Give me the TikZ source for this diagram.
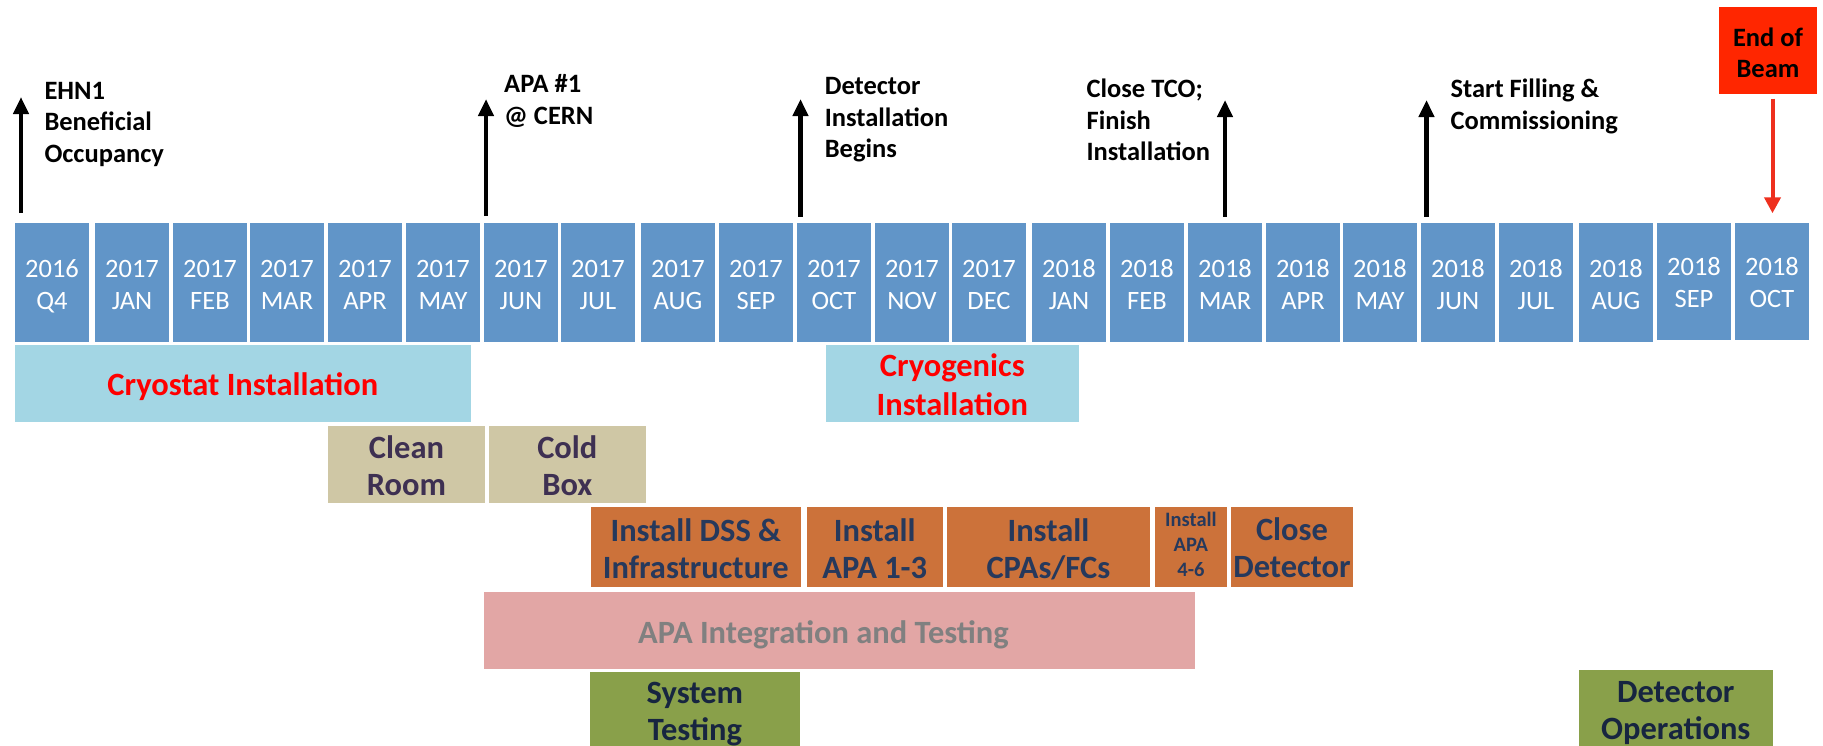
\documentclass[tikz,border=0pt]{standalone}
\usepackage{fontspec}
\setmainfont{Carlito}
\usetikzlibrary{arrows.meta}
\definecolor{monthblue}{RGB}{97,149,200}
\definecolor{cryoblue}{RGB}{163,214,228}
\definecolor{tanfill}{RGB}{207,199,165}
\definecolor{tantext}{RGB}{62,48,82}
\definecolor{orangefill}{RGB}{204,114,58}
\definecolor{orangetext}{RGB}{38,57,92}
\definecolor{pinkfill}{RGB}{226,166,165}
\definecolor{graytext}{RGB}{128,128,128}
\definecolor{greenfill}{RGB}{137,160,74}
\definecolor{greentext}{RGB}{23,37,64}
\definecolor{beamred}{RGB}{255,38,0}
\definecolor{arrowred}{RGB}{238,48,30}
\tikzset{
  monthbox/.style={fill=monthblue, minimum width=74pt, inner sep=0pt, anchor=north west},
  monthtext/.style={text=white, anchor=base, inner sep=0pt, font=\fontsize{26.5}{32}\selectfont},
  barbox/.style={inner sep=0pt, anchor=north west},
  bartext/.style={anchor=base, inner sep=0pt, font=\bfseries\fontsize{32.5}{36.7}\selectfont},
  milearrow/.style={line width=4.5pt, -{Triangle[width=15pt,length=17pt]}},
  redarrow/.style={arrowred, line width=4pt, -{Triangle[width=16pt,length=16pt]}},
  milelabel/.style={anchor=base west, inner sep=0pt, font=\bfseries\fontsize{26.5}{31.7}\selectfont},
}
\begin{document}
\begin{tikzpicture}[x=1pt,y=-1pt]
\useasboundingbox (0,0) rectangle (1823,745);
\clip (0,0) rectangle (1823,745);
% month boxes
\foreach \mx/\yr/\mo [count=\i] in {15/2016/Q4, 95/2017/JAN, 173/2017/FEB, 250/2017/MAR, 328/2017/APR, 406/2017/MAY, 484/2017/JUN, 561/2017/JUL, 641/2017/AUG, 719/2017/SEP, 797/2017/OCT, 875/2017/NOV, 952/2017/DEC, 1032/2018/JAN, 1110/2018/FEB, 1188/2018/MAR, 1266/2018/APR, 1343/2018/MAY, 1421/2018/JUN, 1499/2018/JUL, 1579/2018/AUG}{
  \node[monthbox, minimum height=119pt] (m\i) at (\mx,222.7) {};
  \node[monthtext] (mt\i) at (\mx+37,277) {\begin{tabular}[t]{@{}c@{}}\yr\\\mo\end{tabular}};
}
\node[monthbox, minimum height=116.6pt] (m22) at (1657,222.7) {};
\node[monthtext] (mt22) at (1694,275) {\begin{tabular}[t]{@{}c@{}}2018\\SEP\end{tabular}};
\node[monthbox, minimum height=116.6pt] (m23) at (1735,222.7) {};
\node[monthtext] (mt23) at (1772,275) {\begin{tabular}[t]{@{}c@{}}2018\\OCT\end{tabular}};

% milestone arrows
\coordinate (a1s) at (21,213);    \coordinate (a1e) at (21,97);
\coordinate (a2s) at (486,216);   \coordinate (a2e) at (486,99);
\coordinate (a3s) at (800.5,216.5); \coordinate (a3e) at (800.5,99);
\coordinate (a4s) at (1225,216.5);  \coordinate (a4e) at (1225,100);
\coordinate (a5s) at (1426.5,216.5); \coordinate (a5e) at (1426.5,100);
\draw[milearrow] (a1s) -- (a1e);
\draw[milearrow] (a2s) -- (a2e);
\draw[milearrow] (a3s) -- (a3e);
\draw[milearrow] (a4s) -- (a4e);
\draw[milearrow] (a5s) -- (a5e);

% milestone labels
\node[milelabel] (l1) at (44.3,99) {\begin{tabular}[t]{@{}l@{}}EHN1\\Beneficial\\Occupancy\end{tabular}};
\node[milelabel] (l2) at (504,92.7) {\begin{tabular}[t]{@{}l@{}}APA \#1\\@ CERN\end{tabular}};
\node[milelabel] (l3) at (824.6,94.3) {\begin{tabular}[t]{@{}l@{}}Detector\\Installation\\Begins\end{tabular}};
\node[milelabel] (l4) at (1086.4,97.3) {\begin{tabular}[t]{@{}l@{}}Close TCO;\\Finish\\Installation\end{tabular}};
\node[milelabel] (l5) at (1450.3,97.3) {\begin{tabular}[t]{@{}l@{}}Start Filling \&\\Commissioning\end{tabular}};

% end of beam
\node[barbox, fill=beamred, minimum width=98.1pt, minimum height=87.3pt] (eob) at (1718.9,6.7) {};
\node[bartext, text=black, font=\bfseries\fontsize{26.5}{31.7}\selectfont] (eobt) at (1768,46) {\begin{tabular}[t]{@{}c@{}}End of\\Beam\end{tabular}};
\coordinate (rs) at (1772.5,98.7); \coordinate (re) at (1772.5,213.3);
\draw[redarrow] (rs) -- (re);

% phase bars
\node[barbox, fill=cryoblue, minimum width=455.6pt, minimum height=76.7pt] (cryostat) at (15,345) {};
\node[bartext, text=red] (cryostatt) at (242.8,395.7) {Cryostat Installation};

\node[barbox, fill=cryoblue, minimum width=252.2pt, minimum height=76.7pt] (cryogen) at (826.2,345) {};
\node[bartext, text=red, font=\bfseries\fontsize{32.5}{38.3}\selectfont] (cryogent) at (952.3,376.7) {\begin{tabular}[t]{@{}c@{}}Cryogenics\\Installation\end{tabular}};

\node[barbox, fill=tanfill, minimum width=156.6pt, minimum height=76.7pt] (clean) at (328.2,426) {};
\node[bartext, text=tantext] (cleant) at (406.5,458.3) {\begin{tabular}[t]{@{}c@{}}Clean\\Room\end{tabular}};
\node[barbox, fill=tanfill, minimum width=156.4pt, minimum height=76.7pt] (cold) at (489.1,426) {};
\node[bartext, text=tantext] (coldt) at (567.3,458.3) {\begin{tabular}[t]{@{}c@{}}Cold\\Box\end{tabular}};

\node[barbox, fill=orangefill, minimum width=209.4pt, minimum height=79.7pt] (dss) at (591.1,507) {};
\node[bartext, text=orangetext] (dsst) at (695.8,541.3) {\begin{tabular}[t]{@{}c@{}}Install DSS \&\\Infrastructure\end{tabular}};
\node[barbox, fill=orangefill, minimum width=135.2pt, minimum height=79.7pt] (apa13) at (807.2,507) {};
\node[bartext, text=orangetext] (apa13t) at (874.8,541.3) {\begin{tabular}[t]{@{}c@{}}Install\\APA 1-3\end{tabular}};
\node[barbox, fill=orangefill, minimum width=202.4pt, minimum height=79.7pt] (cpa) at (947.2,507) {};
\node[bartext, text=orangetext] (cpat) at (1048.4,541.3) {\begin{tabular}[t]{@{}c@{}}Install\\CPAs/FCs\end{tabular}};
\node[barbox, fill=orangefill, minimum width=71.4pt, minimum height=79.7pt] (apa46) at (1155.2,507) {};
\node[bartext, text=orangetext, font=\bfseries\fontsize{20.5}{25}\selectfont] (apa46t) at (1190.9,526.7) {\begin{tabular}[t]{@{}c@{}}Install\\APA\\4-6\end{tabular}};
\node[barbox, fill=orangefill, minimum width=122pt, minimum height=79.7pt] (closedet) at (1231,507) {};
\node[bartext, text=orangetext] (closedett) at (1292,540.3) {\begin{tabular}[t]{@{}c@{}}Close\\Detector\end{tabular}};

\node[barbox, fill=pinkfill, minimum width=711pt, minimum height=76.7pt] (apaint) at (484,592) {};
\node[bartext, text=graytext] (apaintt) at (823.5,643.3) {APA Integration and Testing};

\node[barbox, fill=greenfill, minimum width=209.7pt, minimum height=85pt] (systest) at (590,672) {};
\node[bartext, text=greentext] (systestt) at (694.9,703.3) {\begin{tabular}[t]{@{}c@{}}System\\Testing\end{tabular}};
\node[barbox, fill=greenfill, minimum width=193.5pt, minimum height=85pt] (detops) at (1579,670) {};
\node[bartext, text=greentext] (detopst) at (1675.8,702.7) {\begin{tabular}[t]{@{}c@{}}Detector\\Operations\end{tabular}};
\end{tikzpicture}
\end{document}
